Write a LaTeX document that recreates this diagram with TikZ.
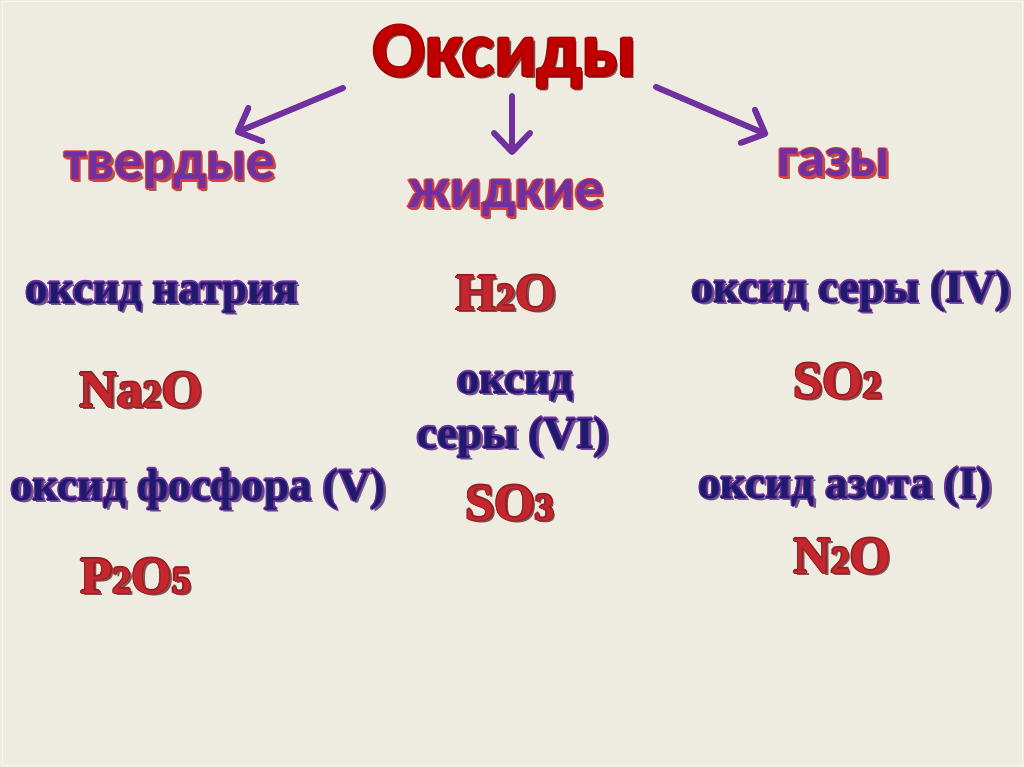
\documentclass[tikz,border=0pt]{standalone}
\usepackage{fontspec}
\setmainfont{Liberation Serif}
\newfontfamily\headfont{Carlito}
\usetikzlibrary{arrows.meta,calc}
\definecolor{paper}{RGB}{238,235,224}
\definecolor{tred}{RGB}{192,0,0}
\definecolor{hface}{RGB}{112,48,160}
\definecolor{hedge}{RGB}{222,58,60}
\definecolor{lface}{RGB}{30,26,108}
\definecolor{ledge}{RGB}{112,48,160}
\definecolor{fface}{RGB}{196,40,46}
\definecolor{fedge}{RGB}{150,30,36}
\definecolor{arrcol}{RGB}{112,48,160}
% outlined text with a soft drop shadow: edge colour, face colour, text
\newcommand\fx[3]{\leavevmode
  \rlap{\kern2.6pt\raisebox{-2.6pt}{\color{#1!55!black!70!paper}#3}}%
  \rlap{\kern-1.3pt\color{#1}#3}\rlap{\kern1.3pt\color{#1}#3}%
  \rlap{\raisebox{1.3pt}{\color{#1}#3}}\rlap{\raisebox{-1.3pt}{\color{#1}#3}}%
  \rlap{\kern-.9pt\raisebox{.9pt}{\color{#1}#3}}\rlap{\kern.9pt\raisebox{.9pt}{\color{#1}#3}}%
  \rlap{\kern-.9pt\raisebox{-.9pt}{\color{#1}#3}}\rlap{\kern.9pt\raisebox{-.9pt}{\color{#1}#3}}%
  {\color{#2}#3}}
\newcommand\dg[1]{{\fontsize{38}{38}\selectfont #1}}
\tikzset{>={Straight Barb[length=19pt,width=36pt,round]}}

\begin{document}
\begin{tikzpicture}[x=1pt,y=-1pt,
   ttl/.style={anchor=base,inner sep=0,font=\headfont\bfseries\fontsize{77}{77}\selectfont},
   hd/.style={anchor=base,inner sep=0,font=\headfont\bfseries\fontsize{57}{57}\selectfont},
   lb/.style={anchor=base,inner sep=0,font=\bfseries\fontsize{45}{54}\selectfont,align=center},
   fm/.style={anchor=base,inner sep=0,font=\bfseries\fontsize{52}{52}\selectfont},
   arr/.style={->,draw=arrcol,line width=6pt,line cap=round}]
  \fill[paper] (0,0) rectangle (1024,767);
  \draw[white!55!paper,line width=1pt] (2,2) rectangle (1022,765);
  \node[ttl] (title) at (505,76) {\fx{tred!85!black}{tred}{Оксиды}};
  \node[hd] (solid) at (170,180) {\fx{hedge}{hface}{твердые}};
  \node[hd] (liquid) at (506,208) {\fx{hedge}{hface}{жидкие}};
  \node[hd] (gas) at (834,177) {\fx{hedge}{hface}{газы}};
  % solid column
  \node[lb] (na) at (162,303) {\fx{ledge}{lface}{оксид натрия}};
  \node[fm] (naf) at (141,407) {\fx{fedge}{fface}{Na\dg{2}O}};
  \node[lb] (ph) at (198,500) {\fx{ledge}{lface}{оксид фосфора (V)}};
  \node[fm] (phf) at (136,593) {\fx{fedge}{fface}{P\dg{2}O\dg{5}}};
  % liquid column
  \node[fm] (wf) at (506,310) {\fx{fedge}{fface}{H\dg{2}O}};
  \node[lb] (sx) at (515,393) {\fx{ledge}{lface}{оксид}};
  \node[lb] (sxb) at (513,448) {\fx{ledge}{lface}{серы (VI)}};
  \node[fm] (sxf) at (510,520) {\fx{fedge}{fface}{SO\dg{3}}};
  % gas column
  \node[lb] (sf) at (851,302) {\fx{ledge}{lface}{оксид серы (IV)}};
  \node[fm] (sff) at (838,398) {\fx{fedge}{fface}{SO\dg{2}}};
  \node[lb] (nt) at (845,498) {\fx{ledge}{lface}{оксид азота (I)}};
  \node[fm] (ntf) at (842,573) {\fx{fedge}{fface}{N\dg{2}O}};
  \draw[arr] ($(title.base)+(-162,12)$) -- ($(solid.base)+(65,-47)$);
  \draw[arr] ($(title.base)+(7,20)$) -- ($(liquid.base)+(6,-53)$);
  \draw[arr] ($(title.base)+(151,11)$) -- ($(gas.base)+(-66,-42)$);
\end{tikzpicture}
\end{document}
